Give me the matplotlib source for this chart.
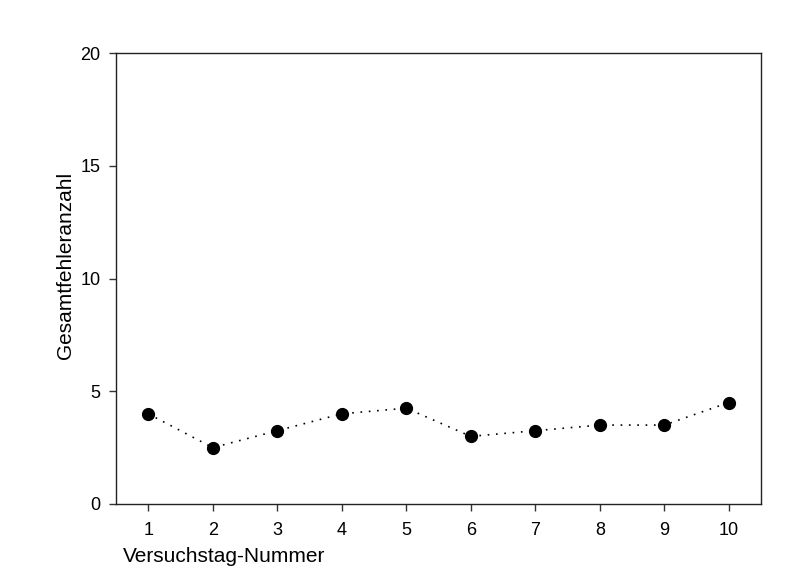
import matplotlib
matplotlib.use("Agg")
from matplotlib import pyplot as plt

# Versuchstag vs. Gesamtfehleranzahl
days = [1, 2, 3, 4, 5, 6, 7, 8, 9, 10]
errors = [4.0, 2.5, 3.25, 4.0, 4.25, 3.0, 3.25, 3.5, 3.5, 4.5]
y_ticks = [0, 5, 10, 15, 20]

plt.rcParams['font.family'] = ['Liberation Sans', 'DejaVu Sans']

fig = plt.figure(figsize=(7.89, 5.77), dpi=100)
ax = fig.add_axes([116/789, 1 - 504/577, (761 - 116)/789, (504 - 53)/577])

ax.plot(days, errors, color='black', linewidth=1.2, linestyle=(0, (1, 4)),
        marker='o', markersize=8.5, markerfacecolor='black', markeredgecolor='black')

ax.set_xlim(0.5, 10.5)
ax.set_ylim(0, 20)
ax.set_xticks(days)
ax.set_yticks(y_ticks)
ax.tick_params(direction='out', length=5, width=1, labelsize=13, color='#333333')
ax.tick_params(axis='x', pad=8)
ax.tick_params(axis='y', pad=6)
for s in ax.spines.values():
    s.set_linewidth(1)
    s.set_color('#222222')

# axis labels placed like in the original
fig.text(123/789, 1 - 557/577, 'Versuchstag-Nummer', fontsize=15, ha='left', va='center')
fig.text(66/789, 1 - 265.5/577, 'Gesamtfehleranzahl', fontsize=15, rotation=90,
         ha='center', va='center')

fig.savefig('out.png', dpi=100)
